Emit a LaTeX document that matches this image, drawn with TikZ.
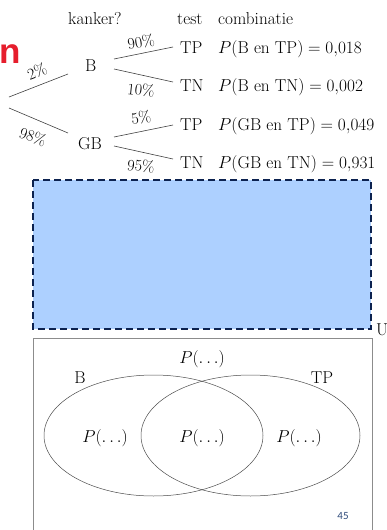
\documentclass[tikz,border=0pt]{standalone}
\usepackage{fontspec}
\usetikzlibrary{shapes.geometric}
\newfontfamily\sansbold{Liberation Sans}
\newfontfamily\slidesans{Carlito}
\definecolor{slidered}{RGB}{230,30,45}
\definecolor{boxblue}{RGB}{173,208,255}
\definecolor{navy}{RGB}{12,34,80}
\definecolor{pagenum}{RGB}{46,74,122}
\begin{document}
\begin{tikzpicture}[x=1pt,y=-1pt,
  txt/.style={inner sep=0pt,font=\fontsize{17.2}{20}\selectfont},
  pct/.style={inner sep=0pt,font=\fontsize{16}{19}\selectfont},
  branch/.style={line width=0.6pt,draw=black!75},
  venn/.style={line width=0.5pt,draw=black!70}]
\useasboundingbox (0,0) rectangle (386,530);
% red letter cut off at left
\node[anchor=base east,inner sep=0pt,text=slidered,font=\sansbold\bfseries\fontsize{35}{40}\selectfont] (n) at (21,63) {n};
% headers
\node[txt,anchor=base west] (h1) at (68,24) {kanker?};
\node[txt,anchor=base west] (h2) at (177,24) {test};
\node[txt,anchor=base west] (h3) at (218,24) {combinatie};
% tree nodes
\node[txt,anchor=base west] (B) at (85,71.5) {B};
\node[txt,anchor=base west] (GB) at (78,149) {GB};
\node[txt,anchor=base west] (TP1) at (180,53) {TP};
\node[txt,anchor=base west] (TN1) at (180,91.5) {TN};
\node[txt,anchor=base west] (TP2) at (180,130) {TP};
\node[txt,anchor=base west] (TN2) at (180,168) {TN};
\node[txt,anchor=base west] (c1) at (218,53) {$P(\mathrm{B\ en\ TP})=0{,}018$};
\node[txt,anchor=base west] (c2) at (218,91.5) {$P(\mathrm{B\ en\ TN})=0{,}002$};
\node[txt,anchor=base west] (c3) at (218,130) {$P(\mathrm{GB\ en\ TP})=0{,}049$};
\node[txt,anchor=base west] (c4) at (218,168) {$P(\mathrm{GB\ en\ TN})=0{,}931$};
% connector ends
\coordinate (r1) at (9,97);   \coordinate (b0) at (68,74);
\coordinate (r2) at (9,108);  \coordinate (g0) at (68,133);
\coordinate (b1) at (114,59); \coordinate (tp1) at (173,47);
\coordinate (b2) at (114,69); \coordinate (tn1) at (173,82);
\coordinate (g1) at (114,137);\coordinate (tp2) at (173,125);
\coordinate (g2) at (114,146);\coordinate (tn2) at (173,159);
\draw[branch] (r1) -- (b0);
\draw[branch] (r2) -- (g0);
\draw[branch] (b1) -- (tp1);
\draw[branch] (b2) -- (tn1);
\draw[branch] (g1) -- (tp2);
\draw[branch] (g2) -- (tn2);
% percentages
\node[pct,rotate=21] (p1) at (37,71.5) {2\%};
\node[pct,rotate=-20] (p2) at (33,136.5) {98\%};
\node[pct,rotate=10] (p3) at (141,42) {90\%};
\node[pct,rotate=-6] (p4) at (141,90) {10\%};
\node[pct,rotate=8] (p5) at (141,118) {5\%};
\node[pct,rotate=-6] (p6) at (141,166) {95\%};
% blue dashed box
\draw[fill=boxblue,draw=navy,line width=2.5pt,dash pattern=on 7pt off 4pt] (33,180) rectangle (371,329);
\node[txt,anchor=base west] (U) at (376,335) {U};
% Venn box
\draw[line width=0.8pt,draw=black!45] (33,338) rectangle (372,540);
\node[venn,ellipse,draw,minimum width=219pt,minimum height=121pt,inner sep=0pt] (EB) at (153.5,435.5) {};
\node[venn,ellipse,draw,minimum width=219pt,minimum height=121pt,inner sep=0pt] (ET) at (250.5,435.5) {};
\node[txt,anchor=base] (pu) at (202,363) {$P(\ldots)$};
\node[txt,anchor=base] (lB) at (80,383) {B};
\node[txt,anchor=base] (lT) at (322,383) {TP};
\node[txt,anchor=base] (pb) at (105,442) {$P(\ldots)$};
\node[txt,anchor=base] (pm) at (202,442) {$P(\ldots)$};
\node[txt,anchor=base] (pt) at (299,442) {$P(\ldots)$};
\node[inner sep=0pt,text=pagenum,font=\slidesans\fontsize{11}{12}\selectfont] (pg) at (343,516) {45};
\end{tikzpicture}
\end{document}
